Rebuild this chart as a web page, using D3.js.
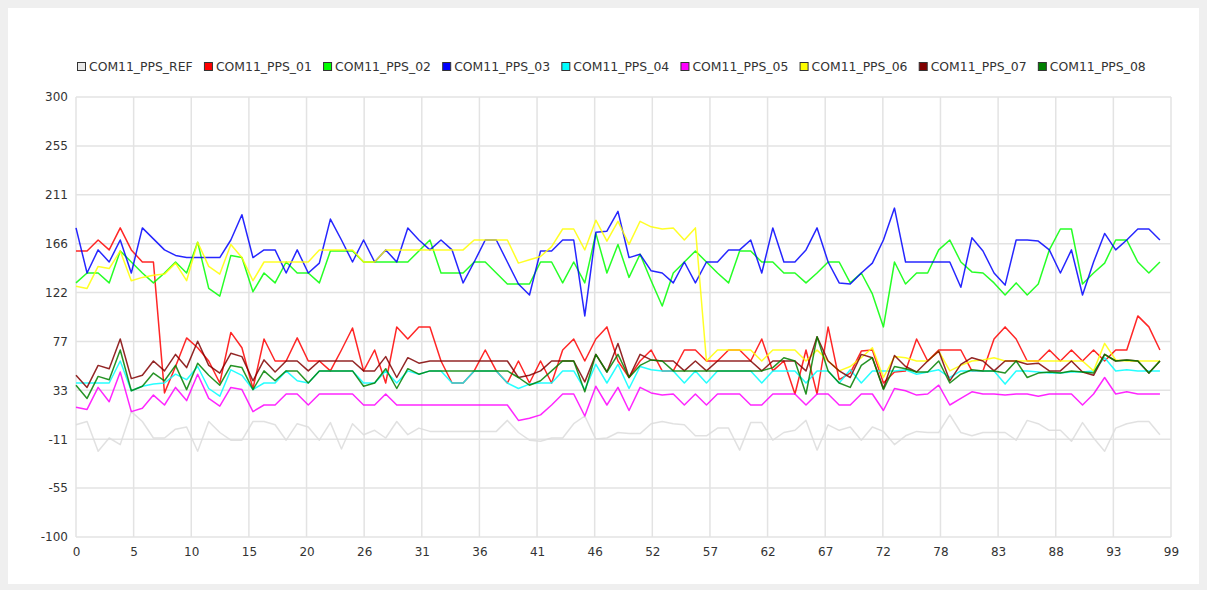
<!DOCTYPE html>
<html>
<head>
<meta charset="utf-8">
<script src="https://cdn.jsdelivr.net/npm/d3@7"></script>
<style>
  html, body { margin: 0; padding: 0; background: #efefef; }
  svg { display: block; }
  text { font-family: "DejaVu Sans", Verdana, sans-serif; }
</style>
</head>
<body>
<svg id="chart" width="1207" height="590"></svg>
<script>
// Series names and colours, in legend order
const seriesNames = ["COM11_PPS_REF", "COM11_PPS_01", "COM11_PPS_02", "COM11_PPS_03", "COM11_PPS_04",
                     "COM11_PPS_05", "COM11_PPS_06", "COM11_PPS_07", "COM11_PPS_08"];
const seriesColors = ["#dcdcdc", "#ff0000", "#00ff00", "#0000ff", "#00ffff",
                      "#ff00ff", "#ffff00", "#800000", "#008000"];

// Samples 0..98 for each channel
const ppsRef = [2, 5, -22, -10, -16, 14, 5, -10, -10, -2,
  0, -22, 5, -5, -12, -12, 5, 5, 2, -12,
  3, 0, -12, 4, -20, 3, -7, -3, -10, 5,
  -7, -1, -4, -4, -4, -4, -4, -4, -4, 6,
  -5, -12, -13, -10, -10, 3, 10, -11, -10, -5,
  -6, -6, 3, 5, 3, 2, -8, -8, -1, -1,
  -21, 4, 4, -12, -5, -3, 6, -21, 2, -3,
  0, -12, 0, -4, -16, -8, -4, -5, -5, 11,
  -5, -8, -5, -5, -5, -12, 6, 3, -3, -3,
  -13, 4, -10, -22, -1, 3, 5, 5, -7];

const pps01 = [160, 160, 170, 161, 181, 161, 150, 150, 31, 55,
  81, 72, 60, 40, 86, 72, 35, 80, 60, 60,
  81, 60, 60, 51, 70, 90, 51, 70, 40, 91,
  80, 91, 91, 60, 40, 40, 51, 70, 51, 40,
  60, 40, 60, 40, 70, 80, 60, 80, 91, 60,
  45, 60, 70, 51, 51, 70, 70, 60, 60, 70,
  70, 60, 80, 51, 60, 30, 70, 30, 91, 43,
  49, 69, 70, 40, 50, 51, 80, 60, 70, 70,
  70, 51, 51, 80, 91, 80, 60, 60, 70, 60,
  70, 60, 70, 60, 70, 70, 101, 91, 70];

const pps02 = [131, 140, 140, 131, 160, 150, 140, 131, 140, 150,
  140, 168, 126, 119, 156, 154, 123, 140, 131, 150,
  140, 140, 131, 160, 160, 160, 150, 150, 150, 150,
  150, 160, 170, 140, 140, 140, 150, 150, 140, 130,
  130, 130, 150, 150, 131, 150, 131, 176, 140, 166,
  136, 157, 133, 110, 140, 150, 160, 150, 140, 131,
  160, 160, 150, 150, 140, 140, 131, 140, 150, 150,
  131, 140, 121, 91, 150, 130, 140, 140, 161, 170,
  150, 141, 140, 131, 120, 131, 120, 130, 161, 180,
  180, 130, 140, 149, 170, 170, 150, 140, 150];

const pps03 = [181, 140, 161, 150, 170, 140, 181, 171, 161, 156,
  154, 154, 154, 154, 170, 193, 154, 161, 161, 140,
  161, 140, 149, 189, 170, 150, 170, 150, 161, 150,
  181, 170, 161, 170, 161, 131, 150, 170, 170, 150,
  130, 120, 160, 160, 170, 170, 101, 177, 178, 196,
  154, 157, 142, 140, 131, 150, 131, 150, 150, 161,
  161, 170, 140, 181, 150, 150, 161, 181, 150, 131,
  130, 140, 149, 170, 199, 150, 150, 150, 150, 150,
  127, 172, 160, 140, 129, 170, 170, 169, 161, 140,
  161, 120, 150, 176, 161, 170, 180, 180, 170];

const pps04 = [40, 40, 40, 40, 60, 33, 37, 39, 40, 48,
  43, 55, 35, 28, 52, 47, 34, 40, 40, 51,
  42, 40, 51, 51, 51, 51, 40, 40, 51, 40,
  51, 48, 51, 51, 40, 40, 51, 51, 51, 40,
  35, 39, 40, 40, 51, 51, 34, 57, 40, 57,
  35, 55, 52, 51, 51, 40, 51, 40, 51, 51,
  51, 51, 40, 51, 51, 51, 40, 51, 51, 40,
  52, 40, 51, 51, 51, 52, 48, 50, 52, 45,
  51, 51, 51, 51, 39, 51, 51, 50, 49, 49,
  50, 50, 51, 63, 51, 52, 51, 51, 51];

const pps05 = [18, 16, 36, 23, 50, 14, 17, 29, 20, 36,
  24, 48, 26, 19, 36, 34, 14, 20, 20, 30,
  30, 20, 30, 30, 30, 30, 20, 20, 30, 20,
  20, 20, 20, 20, 20, 20, 20, 20, 20, 20,
  6, 8, 11, 20, 30, 30, 10, 37, 20, 36,
  15, 36, 31, 29, 30, 20, 30, 20, 30, 30,
  30, 20, 20, 30, 30, 30, 20, 30, 30, 20,
  20, 30, 30, 15, 35, 33, 29, 30, 38, 20,
  26, 32, 30, 30, 29, 30, 30, 28, 30, 30,
  30, 20, 30, 45, 30, 32, 30, 30, 30];

const pps06 = [128, 126, 146, 144, 160, 133, 136, 138, 139, 149,
  133, 168, 146, 139, 166, 154, 133, 150, 150, 150,
  150, 150, 161, 161, 161, 161, 150, 150, 161, 161,
  161, 161, 161, 161, 161, 161, 170, 170, 170, 170,
  149, 152, 155, 164, 180, 180, 161, 188, 169, 187,
  166, 187, 182, 180, 181, 170, 181, 60, 70, 70,
  70, 70, 60, 70, 70, 70, 60, 70, 60, 51,
  55, 63, 72, 45, 64, 63, 60, 60, 69, 51,
  56, 60, 61, 63, 60, 60, 60, 60, 60, 60,
  60, 60, 51, 76, 61, 60, 60, 60, 60];

const pps07 = [47, 36, 56, 53, 80, 44, 47, 60, 51, 66,
  54, 78, 56, 49, 67, 64, 42, 61, 50, 60,
  60, 51, 60, 60, 60, 60, 51, 51, 64, 45,
  63, 58, 60, 60, 60, 60, 60, 60, 60, 60,
  45, 47, 51, 60, 60, 60, 41, 66, 50, 76,
  45, 66, 61, 60, 60, 51, 60, 51, 60, 60,
  60, 60, 51, 60, 60, 60, 51, 82, 60, 51,
  45, 66, 63, 35, 65, 55, 50, 60, 69, 42,
  57, 63, 60, 51, 60, 60, 57, 58, 51, 51,
  60, 50, 47, 66, 60, 61, 60, 49, 60];

const pps08 = [38, 26, 46, 43, 70, 33, 37, 49, 42, 56,
  34, 58, 47, 38, 56, 54, 34, 51, 42, 51,
  51, 40, 51, 51, 51, 51, 37, 40, 53, 35,
  53, 48, 51, 51, 51, 51, 51, 51, 51, 51,
  45, 38, 42, 51, 60, 60, 32, 66, 50, 66,
  45, 56, 61, 60, 51, 51, 51, 51, 51, 51,
  51, 51, 51, 54, 63, 60, 30, 82, 51, 40,
  36, 56, 63, 34, 55, 53, 50, 50, 60, 40,
  48, 52, 51, 51, 49, 60, 45, 49, 50, 49,
  51, 50, 49, 66, 60, 61, 60, 49, 60];

const seriesValues = [ppsRef, pps01, pps02, pps03, pps04, pps05, pps06, pps07, pps08];

// Axis ranges and tick layout
const xDomain = [0, 99];
const yDomain = [-100, 300];
const xTickCount = 20;
const yTickCount = 10;

const svg = d3.select("#chart");
const W = 1207, H = 590;
const plot = { left: 76, top: 97, right: 1171, bottom: 537 };

// White panel
svg.append("rect").attr("x", 8).attr("y", 8).attr("width", W - 16).attr("height", H - 14)
  .attr("fill", "#ffffff");

const x = d3.scaleLinear().domain(xDomain).range([plot.left, plot.right]);
const y = d3.scaleLinear().domain(yDomain).range([plot.bottom, plot.top]);

const xTicks = d3.range(xTickCount).map(k => xDomain[0] + k * (xDomain[1] - xDomain[0]) / (xTickCount - 1));
const yTicks = d3.range(yTickCount).map(k => yDomain[0] + k * (yDomain[1] - yDomain[0]) / (yTickCount - 1));

const gridColor = "#e3e3e3";

// Grid
const grid = svg.append("g");
grid.selectAll("line.v").data(xTicks).enter().append("line")
  .attr("x1", d => x(d)).attr("x2", d => x(d))
  .attr("y1", plot.top).attr("y2", plot.bottom)
  .attr("stroke", gridColor).attr("stroke-width", 1.5);
grid.selectAll("line.h").data(yTicks).enter().append("line")
  .attr("x1", plot.left).attr("x2", plot.right)
  .attr("y1", d => y(d)).attr("y2", d => y(d))
  .attr("stroke", gridColor).attr("stroke-width", 1.5);

// Axes (labels only, the grid carries the lines); labels are truncated tick values
const xAxis = d3.axisBottom(x).tickValues(xTicks).tickSize(0).tickPadding(10)
  .tickFormat(d => String(Math.trunc(d + 1e-9)));
const yAxis = d3.axisLeft(y).tickValues(yTicks).tickSize(0).tickPadding(8)
  .tickFormat(d => String(Math.trunc(d + (d < 0 ? -1e-9 : 1e-9))));

const gx = svg.append("g").attr("transform", `translate(0,${plot.bottom})`).call(xAxis);
const gy = svg.append("g").attr("transform", `translate(${plot.left},0)`).call(yAxis);
[gx, gy].forEach(g => {
  g.select(".domain").remove();
  g.selectAll("text").attr("fill", "#333333").style("font-size", "12px")
    .style("font-family", "'DejaVu Sans', Verdana, sans-serif");
});

// Lines
const line = d3.line().x((d, i) => x(i)).y(d => y(d));
const lines = svg.append("g");
seriesValues.forEach((vals, s) => {
  lines.append("path").datum(vals)
    .attr("d", line)
    .attr("fill", "none")
    .attr("stroke", seriesColors[s])
    .attr("stroke-width", 1.5)
    .attr("stroke-linejoin", "round")
    .attr("opacity", 0.85);
});

// Legend: items laid out one after another by their text width
const legend = svg.append("g").attr("transform", "translate(77,67)");
let cursor = 0;
seriesNames.forEach((name, s) => {
  const g = legend.append("g").attr("transform", `translate(${cursor},0)`);
  g.append("rect").attr("x", 0.5).attr("y", -4.5).attr("width", 8).attr("height", 8)
    .attr("fill", s === 0 ? "#e8e8e8" : seriesColors[s])
    .attr("stroke", "#333333").attr("stroke-width", 1);
  const t = g.append("text").attr("x", 12).attr("y", 0).attr("dy", "0.35em")
    .attr("fill", "#333333").style("font-size", "12.4px").text(name);
  cursor += 12 + t.node().getComputedTextLength() + 11.3;
});
</script>
</body>
</html>
